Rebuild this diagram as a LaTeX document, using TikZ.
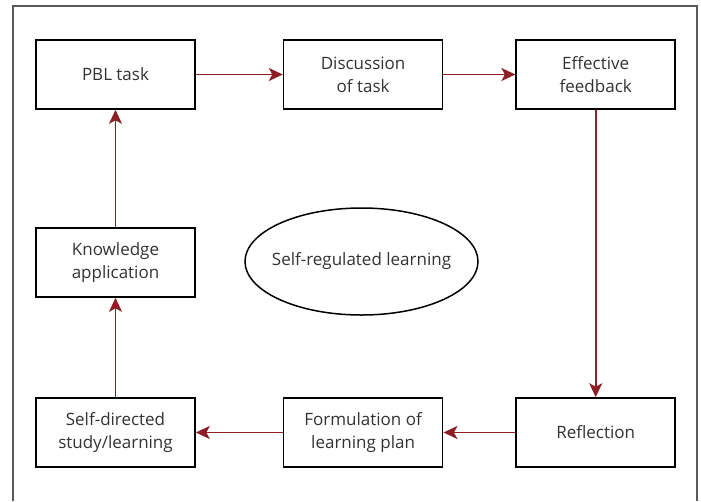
\documentclass[tikz,border=0pt]{standalone}
\usepackage{fontspec}
\setmainfont{Open Sans}
\usepackage{xcolor}
\usetikzlibrary{positioning, arrows.meta, shapes.geometric}
\definecolor{arrowred}{RGB}{140, 30, 36}
\definecolor{textgray}{RGB}{50, 50, 50}
\tikzset{
    stagebox/.style={
        draw, line width=1.6pt, minimum width=159pt, minimum height=69pt,
        align=center, text=textgray, font=\fontsize{17}{23}\selectfont, inner sep=2pt
    },
    centreoval/.style={
        ellipse, draw, line width=1.5pt, minimum width=233pt, minimum height=107pt,
        inner xsep=-12pt, inner ysep=2pt,
        text=textgray, font=\fontsize{17}{23}\selectfont
    },
    flow/.style={
        -{Stealth[length=14pt, width=13pt, inset=3.5pt]}, line width=1.7pt, arrowred
    }
}

\begin{document}
\begin{tikzpicture}[x=1pt, y=-1pt]

        % Khung
        \useasboundingbox (0,0) rectangle (701,501);
        \draw[black!65, line width=1.2pt] (13,501) -- (13,6) -- (697,6) -- (697,501);

        % Hàng trên
        \node[stagebox] (pbl) at (115.5,74.5) {PBL task};
        \node[stagebox, right=87pt of pbl] (disc) {Discussion\\of task};
        \node[stagebox, right=72pt of disc] (feed) {Effective\\feedback};

        % Hàng dưới
        \node[stagebox] (selfdir) at (115.5,432.5) {Self-directed\\study/learning};
        \node[stagebox, right=87pt of selfdir] (plan) {Formulation of\\learning plan};
        \node[stagebox, right=72pt of plan] (refl) {Reflection};

        % Giữa
        \node[stagebox] (know) at (115.5,262.5) {Knowledge\\application};
        \node[centreoval] (srl) at (361.5,261.5) {Self-regulated learning};

        % Mũi tên
        \draw[flow] (pbl) -- (disc);
        \draw[flow] (disc) -- (feed);
        \draw[flow] (feed) -- (refl);
        \draw[flow] (refl) -- (plan);
        \draw[flow] (plan) -- (selfdir);
        \draw[flow] (selfdir) -- (know);
        \draw[flow] (know) -- (pbl);

    \end{tikzpicture}
\end{document}
